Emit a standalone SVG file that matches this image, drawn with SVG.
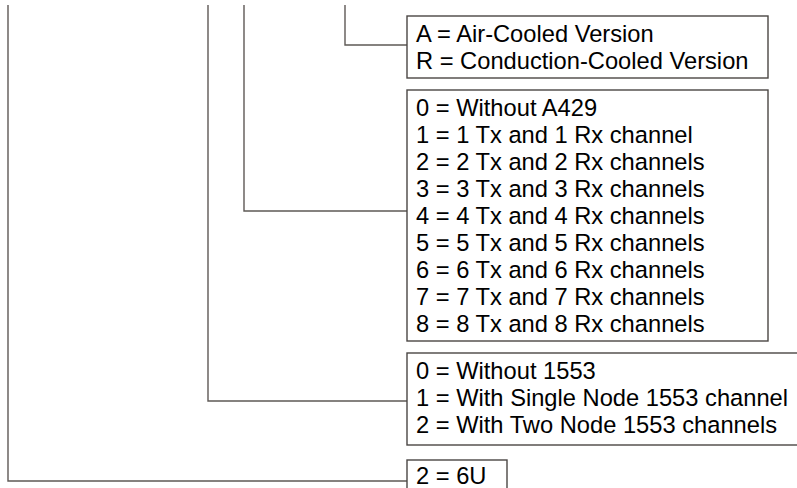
<svg xmlns="http://www.w3.org/2000/svg" width="797" height="488" viewBox="0 0 797 488">
<style>
.box{fill:#fff;stroke:#4a4644;stroke-width:1.4}
.wire{fill:none;stroke:#5e5956;stroke-width:1.4}
text{font-family:"Liberation Sans",Arial,sans-serif;font-size:23.7px;fill:#000}
</style>
<rect width="797" height="488" fill="#fff"/>
<g id="connectors">
<path class="wire" d="M8 5V481H407"/>
<path class="wire" d="M208 5V401H407"/>
<path class="wire" d="M244 5V211H407"/>
<path class="wire" d="M345 5V45H407"/>
</g>
<g id="cooling">
<rect class="box" x="407" y="16" width="361" height="62"/>
<text x="416" y="42">A = Air-Cooled Version</text>
<text x="416" y="69">R = Conduction-Cooled Version</text>
</g>
<g id="a429">
<rect class="box" x="407" y="90" width="361" height="251"/>
<text x="416" y="116">0 = Without A429</text>
<text x="416" y="143">1 = 1 Tx and 1 Rx channel</text>
<text x="416" y="170">2 = 2 Tx and 2 Rx channels</text>
<text x="416" y="197">3 = 3 Tx and 3 Rx channels</text>
<text x="416" y="224">4 = 4 Tx and 4 Rx channels</text>
<text x="416" y="251">5 = 5 Tx and 5 Rx channels</text>
<text x="416" y="278">6 = 6 Tx and 6 Rx channels</text>
<text x="416" y="305">7 = 7 Tx and 7 Rx channels</text>
<text x="416" y="332">8 = 8 Tx and 8 Rx channels</text>
</g>
<g id="mil1553">
<rect class="box" x="407" y="353" width="395" height="92"/>
<text x="416" y="379">0 = Without 1553</text>
<text x="416" y="406">1 = With Single Node 1553 channel</text>
<text x="416" y="433">2 = With Two Node 1553 channels</text>
</g>
<g id="size">
<rect class="box" x="407" y="460" width="100" height="40"/>
<text x="416" y="484">2 = 6U</text>
</g>
</svg>
